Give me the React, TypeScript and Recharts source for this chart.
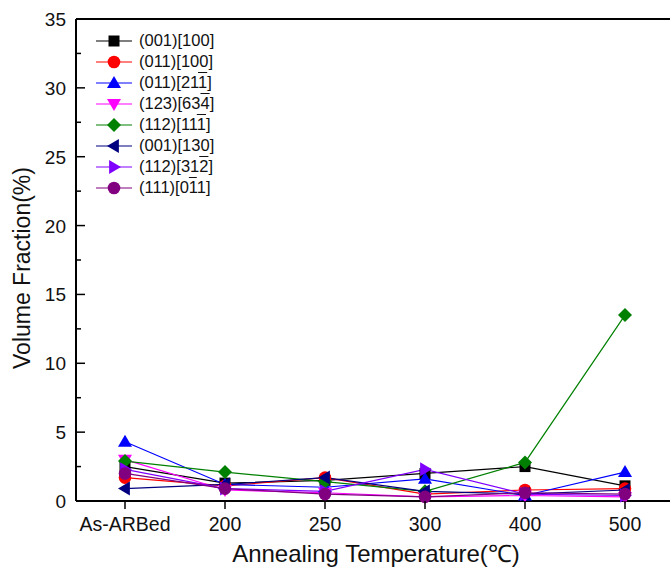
import React from 'react';
import { LineChart, Line, XAxis, YAxis, ReferenceLine } from 'recharts';

const categories = ['As-ARBed', '200', '250', '300', '400', '500'];

const s001_100 = [2.5, 1.3, 1.5, 2.0, 2.5, 1.1];
const s011_100 = [1.7, 1.1, 1.7, 0.5, 0.8, 0.9];
const s011_211 = [4.3, 1.2, 1.0, 1.6, 0.4, 2.1];
const s123_634 = [3.0, 0.8, 0.6, 0.3, 0.4, 0.3];
const s112_111 = [2.9, 2.1, 1.4, 0.7, 2.8, 13.5];
const s001_130 = [0.9, 1.2, 1.7, 0.7, 0.5, 0.8];
const s112_312 = [2.3, 0.9, 0.7, 2.3, 0.5, 0.4];
const s111_011 = [2.0, 0.9, 0.5, 0.3, 0.6, 0.5];

const yTicks = [0, 2.5, 5, 7.5, 10, 12.5, 15, 17.5, 20, 22.5, 25, 27.5, 30, 32.5, 35];

const FONT = '"Liberation Sans", Arial, sans-serif';

// label parts: [text, overlined]
const series = [
  { key: 'a', values: s001_100, color: '#000000', shape: 'square', label: [['(001)[100]', false]] },
  { key: 'b', values: s011_100, color: '#ff0000', shape: 'circle', label: [['(011)[100]', false]] },
  { key: 'c', values: s011_211, color: '#0000ff', shape: 'up', label: [['(011)[21', false], ['1', true], [']', false]] },
  { key: 'd', values: s123_634, color: '#ff00ff', shape: 'down', label: [['(123)[63', false], ['4', true], [']', false]] },
  { key: 'e', values: s112_111, color: '#008000', shape: 'diamond', label: [['(112)[11', false], ['1', true], [']', false]] },
  { key: 'f', values: s001_130, color: '#000080', shape: 'left', label: [['(001)[130]', false]] },
  { key: 'g', values: s112_312, color: '#8000ff', shape: 'right', label: [['(112)[31', false], ['2', true], [']', false]] },
  { key: 'h', values: s111_011, color: '#800080', shape: 'circle', label: [['(111)[0', false], ['1', true], ['1]', false]] },
];

const data = categories.map((c, i) => {
  const row: any = { x: i, name: c };
  series.forEach((s) => (row[s.key] = s.values[i]));
  return row;
});

function Marker({ cx, cy, shape, color }: any) {
  const r = 7;
  switch (shape) {
    case 'square':
      return <rect x={cx - 5.5} y={cy - 5.5} width={11} height={11} fill={color} />;
    case 'circle':
      return <circle cx={cx} cy={cy} r={6.3} fill={color} />;
    case 'up':
      return <polygon points={`${cx},${cy - r} ${cx - r},${cy + r * 0.7} ${cx + r},${cy + r * 0.7}`} fill={color} />;
    case 'down':
      return <polygon points={`${cx},${cy + r} ${cx - r},${cy - r * 0.7} ${cx + r},${cy - r * 0.7}`} fill={color} />;
    case 'left':
      return <polygon points={`${cx - r},${cy} ${cx + r * 0.7},${cy - r} ${cx + r * 0.7},${cy + r}`} fill={color} />;
    case 'right':
      return <polygon points={`${cx + r},${cy} ${cx - r * 0.7},${cy - r} ${cx - r * 0.7},${cy + r}`} fill={color} />;
    case 'diamond':
    default:
      return <polygon points={`${cx},${cy - r} ${cx + r},${cy} ${cx},${cy + r} ${cx - r},${cy}`} fill={color} />;
  }
}

function YTick({ x, y, payload }: any) {
  const major = payload.value % 5 === 0;
  return (
    <g>
      <line x1={x} y1={y} x2={x + (major ? 9 : 5)} y2={y} stroke="#000" strokeWidth={1.5} />
      {major && (
        <text x={x - 10} y={y} dy={7} textAnchor="end" fontSize={19} fill="#111" fontFamily={FONT}>
          {payload.value}
        </text>
      )}
    </g>
  );
}

function XTick({ x, y, payload }: any) {
  return (
    <g>
      <line x1={x} y1={y} x2={x} y2={y - 8} stroke="#000" strokeWidth={1.5} />
      <text x={x} y={y + 22} textAnchor="middle" fontSize={19.5} fill="#111" fontFamily={FONT}>
        {categories[payload.value]}
      </text>
    </g>
  );
}

function LegendBox() {
  return (
    <div style={{ position: 'absolute', left: 95, top: 30, fontFamily: FONT, fontSize: 16.5, color: '#111' }}>
      {series.map((s) => (
        <div key={s.key} style={{ display: 'flex', alignItems: 'center', height: 21 }}>
          <svg width={40} height={20} style={{ marginRight: 4 }}>
            <line x1={1} y1={10} x2={37} y2={10} stroke={s.color} strokeWidth={1.2} />
            <Marker cx={19} cy={10} shape={s.shape} color={s.color} />
          </svg>
          <span>
            {s.label.map((p: any, i: number) => (
              <span key={i} style={p[1] ? { textDecoration: 'overline' } : undefined}>
                {p[0]}
              </span>
            ))}
          </span>
        </div>
      ))}
    </div>
  );
}

export default function App() {
  return (
    <div style={{ position: 'absolute', left: 0, top: 0, width: 670, height: 572, background: '#fff' }}>
      <LineChart width={670} height={572} data={data} margin={{ top: 19, right: 0, left: 16, bottom: 41 }}>
        <XAxis
          dataKey="x"
          type="number"
          domain={[-0.49, 5.45]}
          ticks={[0, 1, 2, 3, 4, 5]}
          tickLine={false}
          tick={<XTick />}
          axisLine={{ stroke: '#000', strokeWidth: 2 }}
          height={30}
          allowDataOverflow
          label={{
            content: () => (
              <text x={376} y={562} textAnchor="middle" fontSize={24} fill="#111" fontFamily={FONT}>
                Annealing Temperature(℃)
              </text>
            ),
          }}
        />
        <YAxis
          type="number"
          domain={[0, 35]}
          ticks={yTicks}
          interval={0}
          tickSize={0}
          tickMargin={0}
          tickLine={false}
          tick={<YTick />}
          axisLine={{ stroke: '#000', strokeWidth: 2 }}
          width={60}
          label={{
            content: () => (
              <text
                x={30}
                y={268}
                transform="rotate(-90 30 268)"
                textAnchor="middle"
                fontSize={23}
                fill="#111"
                fontFamily={FONT}
              >
                Volume Fraction(%)
              </text>
            ),
          }}
        />
        <ReferenceLine y={35} stroke="#000" strokeWidth={2} />
        {series.map((s) => (
          <Line
            key={s.key}
            dataKey={s.key}
            stroke={s.color}
            strokeWidth={1.2}
            isAnimationActive={false}
            dot={(p: any) => <Marker key={`${s.key}-${p.index}`} cx={p.cx} cy={p.cy} shape={s.shape} color={s.color} />}
            activeDot={false}
          />
        ))}
      </LineChart>
      <LegendBox />
    </div>
  );
}
